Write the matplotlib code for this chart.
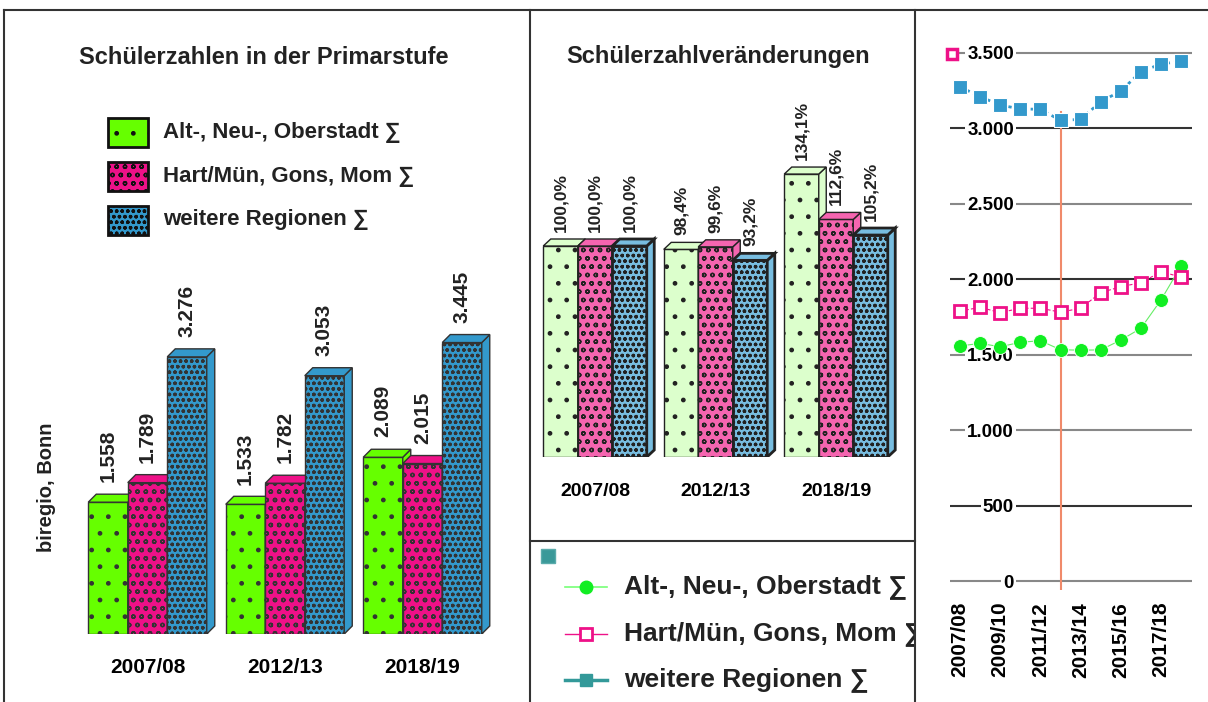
import matplotlib
matplotlib.use("Agg")
import matplotlib.pyplot as plt
from matplotlib.patches import Polygon, Rectangle
import numpy as np

plt.rcParams['font.family'] = ['Liberation Sans', 'DejaVu Sans']
plt.rcParams['font.weight'] = 'bold'
plt.rcParams['hatch.linewidth'] = 1.0
plt.rcParams['text.color'] = '#222222'

W, H = 1208, 702

# ---------------- data ----------------
bar_years = ["2007/08", "2012/13", "2018/19"]
series_names = ["Alt-, Neu-, Oberstadt ∑", "Hart/Mün, Gons, Mom ∑", "weitere Regionen ∑"]
counts_alt = [1558, 1533, 2089]
counts_hart = [1789, 1782, 2015]
counts_weitere = [3276, 3053, 3445]
pct_alt = [100.0, 98.4, 134.1]
pct_hart = [100.0, 99.6, 112.6]
pct_weitere = [100.0, 93.2, 105.2]

years = ["2007/08", "2008/09", "2009/10", "2010/11", "2011/12", "2012/13",
         "2013/14", "2014/15", "2015/16", "2016/17", "2017/18", "2018/19"]
line_alt = [1558, 1575, 1553, 1582, 1593, 1533, 1530, 1532, 1597, 1675, 1863, 2089]
line_hart = [1789, 1814, 1779, 1808, 1808, 1782, 1808, 1911, 1951, 1977, 2050, 2015]
line_weitere = [3276, 3210, 3155, 3129, 3127, 3053, 3060, 3177, 3248, 3376, 3427, 3445]
y_ticks = [0, 500, 1000, 1500, 2000, 2500, 3000, 3500]
x_tick_years = ["2007/08", "2009/10", "2011/12", "2013/14", "2015/16", "2017/18"]
marker_year = "2012/13"
marker_top = 3110

fig = plt.figure(figsize=(W / 100, H / 100), dpi=100)


def px_axes(x0, y0, x1, y1, **kw):
    ax = fig.add_axes([x0 / W, 1 - y1 / H, (x1 - x0) / W, (y1 - y0) / H], **kw)
    return ax


def de(v):
    return f"{v:,}".replace(",", ".")


def pct(v):
    return f"{v:.1f}%".replace(".", ",")


def bars3d(ax, xpos, values, width, dxp, dyp, face, hatch, ec, lw, z, labels, fs, off):
    ax.bar(xpos, values, width, color=face, edgecolor=ec, hatch=hatch,
           linewidth=lw, zorder=z)
    for x, v, lab in zip(xpos, values, labels):
        xl, xr = x - width / 2, x + width / 2
        ax.add_patch(Polygon([(xr, 0), (xr + dxp, dyp), (xr + dxp, v + dyp), (xr, v)],
                             closed=True, facecolor=face, edgecolor=ec, lw=lw, zorder=z))
        ax.add_patch(Polygon([(xl, v), (xl + dxp, v + dyp), (xr + dxp, v + dyp), (xr, v)],
                             closed=True, facecolor=face, edgecolor=ec, lw=lw, zorder=z))
        ax.annotate(lab, xy=(x, v + dyp), xytext=(0, off), textcoords='offset points',
                    rotation=90, ha='center', va='bottom', fontsize=fs,
                    fontweight='bold', zorder=10)


def clean(ax):
    for s in ax.spines.values():
        s.set_visible(False)
    ax.set_yticks([])
    ax.patch.set_visible(False)


hatches = [".", "oo", "ooo"]

# ---------------- left chart ----------------
axL = px_axes(60, 280, 520, 634)
clean(axL)
sp = 137.5
bw = 39.5 / sp
pxy = 0.0846
axL.set_xlim((60 - 147.5) / sp, (520 - 147.5) / sp)
axL.set_ylim(0, (634 - 280) / pxy)
gx = np.arange(len(bar_years))
left_cols = ["#66ff00", "#ee1188", "#3399cc"]
for i, (vals, col, ht) in enumerate(zip([counts_alt, counts_hart, counts_weitere],
                                       left_cols, hatches)):
    bars3d(axL, gx + (i - 1) * bw, vals, bw, 8 / sp, 8 / pxy, col, ht, "#333333", 1.0,
           2 + i, [de(v) for v in vals], 15, 8.5)
axL.set_xticks(gx, bar_years)
axL.tick_params(axis='x', length=0, pad=17, labelsize=15)

# ---------------- middle chart ----------------
axM = px_axes(535, 100, 910, 457)
clean(axM)
spm = 120.5
bwm = 34.5 / spm
pym = 2.11
axM.set_xlim((535 - 595) / spm, (910 - 595) / spm)
axM.set_ylim(0, (457 - 100) / pym)
mid_cols = ["#dcffcc", "#f565b0", "#78bde0"]
mid_lw = [1.0, 1.0, 2.0]
for i, (vals, col, ht, lw) in enumerate(zip([pct_alt, pct_hart, pct_weitere],
                                           mid_cols, hatches, mid_lw)):
    bars3d(axM, gx + (i - 1) * bwm, vals, bwm, 7.5 / spm, 7 / pym, col, ht, "#222222", lw,
           2 + i, [pct(v) for v in vals], 12.5, 5)
axM.set_xticks(gx, bar_years)
axM.tick_params(axis='x', length=0, pad=18.5, labelsize=14)

# ---------------- right chart ----------------
axR = px_axes(950, 40, 1192, 590)
for s in axR.spines.values():
    s.set_visible(False)
axR.patch.set_visible(False)
spr = 20.1
pyr = 0.15086
axR.set_xlim((950 - 960) / spr, (1192 - 960) / spr)
axR.set_ylim((581 - 590) / pyr, (581 - 40) / pyr)
xi = np.arange(len(years))
axR.set_axisbelow(True)
axR.set_yticks(y_ticks, [de(v) for v in y_ticks])
axR.tick_params(axis='y', length=0, pad=-46, labelsize=13.5)
for lbl in axR.get_yticklabels():
    lbl.set_bbox(dict(facecolor='white', edgecolor='none', pad=1.5))
axR.grid(axis='y', linewidth=1.5)
grid_cols = ["#888888", "#333333", "#888888", "#888888", "#333333", "#888888", "#333333", "#888888"]
for t, c in zip(axR.yaxis.get_major_ticks(), grid_cols):
    t.gridline.set_color(c)
axR.set_xticks([years.index(y) for y in x_tick_years], x_tick_years, rotation=90)
axR.tick_params(axis='x', length=0, pad=8.5, labelsize=15)
mi = years.index(marker_year)
axR.plot([mi, mi], [marker_top, axR.get_ylim()[0]], color="#f08a6a", lw=1.5, zorder=1)
axR.plot(xi, line_weitere, color="#3399cc", ls=(0, (1.2, 1.5)), lw=2, marker='s',
         ms=10, mfc="#3399cc", mec="white", mew=0.8, zorder=3)
axR.plot(xi, line_alt, color="#66ee66", ls='-', lw=0.8, marker='o',
         ms=10, mfc="#11ee22", mec="white", mew=0.6, zorder=3)
axR.plot(xi, line_hart, color="#ee1188", ls=(0, (3, 2)), lw=0.8, marker='s',
         ms=9, mfc="white", mec="#ee1188", mew=2, zorder=4)

# ---------------- overlay: borders, titles, legends ----------------
ov = fig.add_axes([0, 0, 1, 1], zorder=20)
ov.set_xlim(0, W)
ov.set_ylim(H, 0)
ov.axis('off')
bc = "#333333"
ov.plot([4, 4], [10, H], color=bc, lw=1.5)
ov.plot([4, W], [10, 10], color=bc, lw=1.5)
ov.plot([530, 530], [10, H], color=bc, lw=1.5)
ov.plot([915, 915], [10, H], color=bc, lw=1.5)
ov.plot([530, 915], [541, 541], color=bc, lw=1.5)

ov.text(263.5, 57, "Schülerzahlen in der Primarstufe", ha='center', va='center',
        fontsize=17, fontweight='bold')
ov.text(718.5, 57, "Schülerzahlveränderungen", ha='center', va='center',
        fontsize=17, fontweight='bold')
ov.text(47, 487, "biregio, Bonn", rotation=90, ha='center', va='center',
        fontsize=14.5, fontweight='bold')

for yc, name, col, ht in zip([132.5, 176.5, 220], series_names, left_cols, hatches):
    ov.add_patch(Rectangle((108, yc - 14.5), 40, 29, facecolor=col, edgecolor="#111111",
                           hatch=ht, lw=2))
    ov.text(163, yc, name, ha='left', va='center', fontsize=16, fontweight='bold')

ov.plot([952], [54], marker='s', ms=7, mfc='white', mec="#ee1188", mew=2.5)

# bottom legend
lg = px_axes(531, 542, 914, 702)
lg.set_xlim(531, 914)
lg.set_ylim(702, 542)
lg.axis('off')
lg.add_patch(Rectangle((541, 549), 14, 14, facecolor="#3a9999", edgecolor="#5aabab", lw=1))
leg_styles = [
    dict(color="#77ff77", lw=1.2, marker='o', ms=9, mfc="#11ee22", mec="#11ee22"),
    dict(color="#ee1188", lw=1.0, marker='s', ms=8, mfc="white", mec="#ee1188", mew=2),
    dict(color="#339999", lw=2.5, marker='s', ms=9, mfc="#339999", mec="#339999"),
]
for yc, name, st in zip([587, 634, 680], series_names, leg_styles):
    lg.plot([565, 586, 607], [yc, yc, yc], **st, markevery=[1])
    t = lg.text(624, yc, name, ha='left', va='center', fontsize=19, fontweight='bold')
    t.set_clip_on(True)
    t.set_clip_box(lg.bbox)

fig.savefig("out.png", dpi=100)
